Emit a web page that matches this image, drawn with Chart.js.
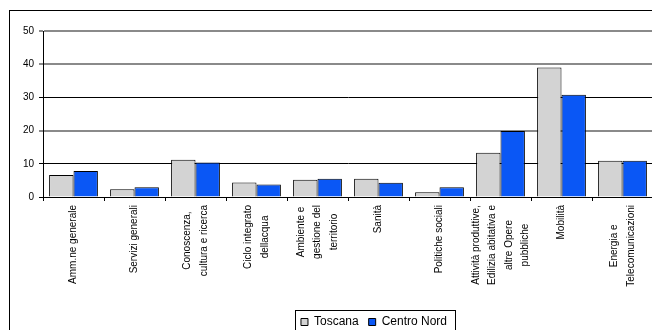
<!DOCTYPE html>
<html>
<head>
<meta charset="utf-8">
<script src="https://cdn.jsdelivr.net/npm/chart.js@4/dist/chart.umd.min.js"></script>
<style>
  html, body { margin: 0; padding: 0; background: #fff; overflow: hidden; }
  #wrap { position: relative; width: 748px; height: 345px; }
</style>
</head>
<body>
<div id="wrap"><canvas id="chart"></canvas></div>
<script>
/* ── Data ── */
const CATEGORIES = [
  ['Amm.ne generale'],
  ['Servizi generali'],
  ['Conoscenza,', 'cultura e ricerca'],
  ['Ciclo integrato', 'dellacqua'],
  ['Ambiente e', 'gestione del', 'territorio'],
  ['Sanità'],
  ['Politiche sociali'],
  ['Attività produttive,', 'Edilizia abitativa e', 'altre Opere', 'pubbliche'],
  ['Mobilità'],
  ['Energia e', 'Telecomunicazioni'],
];
const TOSCANA      = [6.6, 2.3, 11.2, 4.4, 5.2, 5.5, 1.4, 13.3, 39.0, 10.9];
const CENTRO_NORD  = [7.8, 2.9, 10.4, 3.8, 5.5, 4.3, 2.9, 19.9, 30.8, 10.9];
const SERIES_NAMES = ['Toscana', 'Centro Nord'];
const Y_TICKS      = [0, 10, 20, 30, 40, 50];

/* ── Constants ── */
const FONT    = '"Liberation Sans", Arial, sans-serif';
const GREY    = '#d3d3d3';
const BLUE    = '#0a57f5';
const LINE_H  = 16.5;

/* ── Outer frame ── */
const framePlugin = {
  id: 'frame',
  beforeDraw(chart) {
    const { ctx } = chart;
    ctx.save();
    ctx.strokeStyle = '#000';
    ctx.lineWidth = 1;
    ctx.strokeRect(9.5, 10.5, 727, 360);
    ctx.restore();
  },
};

/* ── Legend moved to full canvas width + box round it ── */
const legendPlugin = {
  id: 'legendBox',
  afterLayout(chart) {
    const lg = chart.legend;
    lg.left = 0;
    lg.right = chart.width;
    lg.width = chart.width;
  },
  afterDraw(chart) {
    const boxes = chart.legend.legendHitBoxes;
    if (!boxes || !boxes.length) return;
    const first = boxes[0];
    const last  = boxes[boxes.length - 1];
    const { ctx } = chart;
    ctx.save();
    ctx.strokeStyle = '#000';
    ctx.lineWidth = 1;
    const l = Math.round(first.left - 6) + 0.5;
    const r = Math.round(last.left + last.width + 8) + 0.5;
    const t = Math.round(first.top - 6) + 0.5;
    ctx.strokeRect(l, t, r - l, 40);
    ctx.restore();
  },
};

/* ── Rotated multi-line category labels, centred lines ── */
const xLabelsPlugin = {
  id: 'xLabels',
  afterDraw(chart) {
    const { ctx } = chart;
    const x = chart.scales.x;
    ctx.save();
    ctx.font = '10px ' + FONT;
    ctx.fillStyle = '#000';
    ctx.textAlign = 'center';
    ctx.textBaseline = 'middle';
    CATEGORIES.forEach((lines, i) => {
      const cx = x.getPixelForValue(i);
      const w  = Math.max(...lines.map(s => ctx.measureText(s).width));
      ctx.save();
      ctx.translate(cx, x.top + 8 + w / 2);
      ctx.rotate(-Math.PI / 2);
      lines.forEach((s, j) => {
        ctx.fillText(s, 0, (j - (lines.length - 1) / 2) * LINE_H);
      });
      ctx.restore();
    });
    ctx.restore();
  },
};

new Chart(document.getElementById('chart'), {
  type: 'bar',
  data: {
    labels: CATEGORIES.map(c => c.join(' ')),
    datasets: [
      {
        label: SERIES_NAMES[0],
        data: TOSCANA,
        backgroundColor: GREY,
        borderColor: '#000',
        borderWidth: 1,
        borderSkipped: 'start',
      },
      {
        label: SERIES_NAMES[1],
        data: CENTRO_NORD,
        backgroundColor: BLUE,
        borderColor: '#000',
        borderWidth: 1,
        borderSkipped: 'start',
      },
    ],
  },
  options: {
    responsive: true,
    maintainAspectRatio: false,
    animation: false,
    categoryPercentage: 0.8,
    barPercentage: 1.0,
    layout: { padding: { left: 0, right: 95, top: 31, bottom: 7 } },
    plugins: {
      legend: {
        position: 'bottom',
        labels: {
          boxWidth: 7,
          boxHeight: 7,
          color: '#000',
          padding: 10,
          font: { family: FONT, size: 12 },
        },
      },
      tooltip: { enabled: false },
    },
    scales: {
      x: {
        grid: {
          offset: true,
          drawOnChartArea: false,
          drawTicks: true,
          tickLength: 4,
          color: '#000',
        },
        border: { color: '#000', width: 1 },
        ticks: { display: false },
        afterFit: s => { s.height = 109; },
      },
      y: {
        min: 0,
        max: 50,
        afterBuildTicks: s => { s.ticks = Y_TICKS.map(v => ({ value: v })); },
        grid: {
          color: c => [20, 40, 50].includes(c.tick && c.tick.value) ? '#8a8a8a' : '#000',
          lineWidth: c => [20, 40, 50].includes(c.tick && c.tick.value) ? 2 : 1,
          tickLength: 4,
        },
        border: { color: '#000', width: 1 },
        ticks: {
          color: '#000',
          padding: 5,
          font: { family: FONT, size: 10 },
        },
        afterFit: s => { s.width = 43; },
      },
    },
  },
  plugins: [framePlugin, legendPlugin, xLabelsPlugin],
});
</script>
</body>
</html>
